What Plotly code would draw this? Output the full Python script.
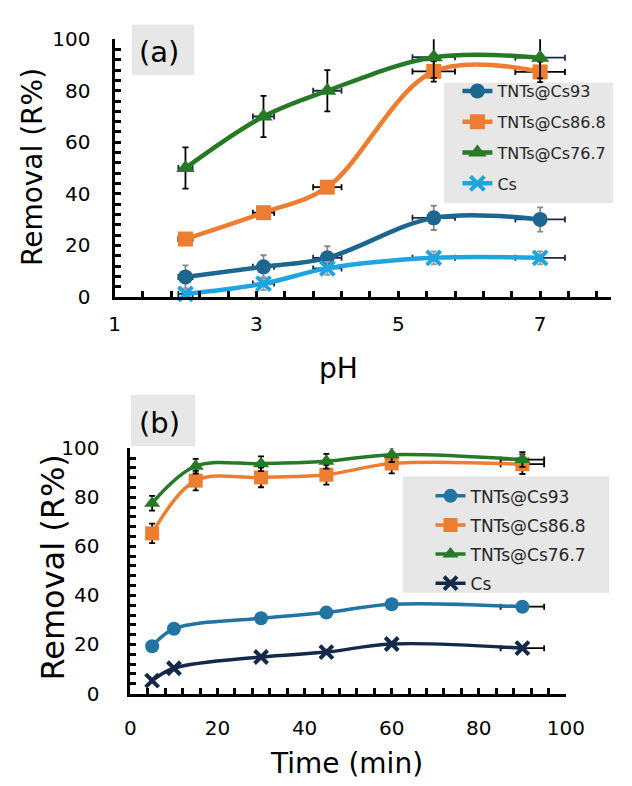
import plotly.graph_objects as go

W, H = 632, 786

# ---------- Panel (a): removal vs pH ----------
ph = [2, 3.1, 4, 5.5, 7]
ph_err = [0.1, 0.15, 0.2, 0.3, 0.35]
a_cs93 = [7.8, 11.7, 15.2, 30.7, 30.1]
a_cs93_err = [4.5, 4.5, 4.5, 4.7, 4.7]
a_cs868 = [22.5, 32.7, 42.6, 87.5, 87.3]
a_cs868_err = [1, 1, 1, 4, 4]
a_cs767 = [50, 70, 80, 93, 92.8]
a_cs767_err = [8, 8, 8, 8, 8]
a_cs = [1.2, 5.2, 11.1, 15.2, 15.2]
a_cs_err = [2, 2.5, 2.5, 2.5, 2.5]

# ---------- Panel (b): removal vs time ----------
t_blue = [5, 10, 30, 45, 60, 90]
t_green = [5, 15, 30, 45, 60, 90]
t_err = [0, 0, 0, 0, 0, 5]
b_cs93 = [19.3, 26.4, 30.7, 33.0, 36.4, 35.4]
b_cs = [5.3, 10.3, 14.9, 16.9, 20.2, 18.5]
b_cs868 = [65.3, 86.8, 88.1, 89.2, 93.8, 93.5]
b_cs868_err = [4, 4, 4, 4, 4, 4]
b_cs767 = [77.6, 92.7, 93.7, 94.7, 97.4, 95.4]
b_cs767_err = [3, 3, 3, 3, 3, 3]

names = ["TNTs@Cs93", "TNTs@Cs86.8", "TNTs@Cs76.7", "Cs"]

C93A, C93B = "#1d6690", "#2274a3"
CORG = "#ed7d31"
CGRN = "#267a26"
CCSA, CCSB = "#1ea5e0", "#14294a"
NAVY = "#1a2a48"
FONT = "DejaVu Sans"


def px_x(p):
    return p / W


def px_y(p):
    return 1 - p / H


fig = go.Figure()


def add(x, y, name, color, symbol, size, lw, xref, yref, legend,
        ey=None, ey_color="black", ex=None, ex_color=NAVY, mlw=0):
    kw = {}
    if ey is not None:
        kw["error_y"] = dict(type="data", array=ey, color=ey_color,
                             thickness=1.8, width=3)
    if ex is not None:
        kw["error_x"] = dict(type="data", array=ex, color=ex_color,
                             thickness=1.8, width=3)
    fig.add_trace(go.Scatter(
        x=x, y=y, name=name, mode="lines+markers",
        line=dict(color=color, width=lw, shape="spline", smoothing=1),
        marker=dict(color=color, symbol=symbol, size=size,
                    line=dict(color=color, width=mlw)),
        xaxis=xref, yaxis=yref, legend=legend, legendgroup=legend + name,
        cliponaxis=False, **kw))


# panel a
add(ph, a_cs93, names[0], C93A, "circle", 15, 4.5, "x", "y", "legend",
    ey=a_cs93_err, ey_color="#888888", ex=ph_err)
add(ph, a_cs868, names[1], CORG, "square", 15, 4.5, "x", "y", "legend",
    ey=a_cs868_err, ex=ph_err, ex_color="black")
add(ph, a_cs767, names[2], CGRN, "triangle-up", 16, 4.5, "x", "y", "legend",
    ey=a_cs767_err, ex=ph_err)
add(ph, a_cs, names[3], CCSA, "x-thin", 14, 4.5, "x", "y", "legend",
    ey=a_cs_err, ey_color="#999999", ex=ph_err, mlw=4)

# panel b
add(t_blue, b_cs93, names[0], C93B, "circle", 14, 3.5, "x2", "y2", "legend2",
    ex=t_err, ex_color="black")
add(t_green, b_cs868, names[1], CORG, "square", 14, 3.5, "x2", "y2", "legend2",
    ey=b_cs868_err, ex=t_err, ex_color="black")
add(t_green, b_cs767, names[2], CGRN, "triangle-up", 14, 3.5, "x2", "y2", "legend2",
    ey=b_cs767_err, ex=t_err, ex_color="black")
add(t_blue, b_cs, names[3], CCSB, "x-thin", 13, 3.5, "x2", "y2", "legend2",
    ex=t_err, ex_color="black", mlw=4)

axis_common = dict(showline=True, linecolor="black", linewidth=3,
                   showgrid=False, zeroline=False, ticks="inside",
                   ticklen=6, tickwidth=2.5, tickcolor="black",
                   tickfont=dict(family=FONT, size=20, color="black"),
                   fixedrange=True)

fig.update_layout(
    width=W, height=H, autosize=False,
    margin=dict(l=0, r=0, t=0, b=0),
    paper_bgcolor="white", plot_bgcolor="rgba(0,0,0,0)",
    xaxis=dict(domain=[px_x(113), px_x(630)], range=[1, 8],
               tick0=1, dtick=2, anchor="y", ticklabelstandoff=7,
               minor=dict(tick0=1, dtick=0.4, ticks="inside", ticklen=6,
                          tickwidth=2.5, tickcolor="black"),
               **axis_common),
    yaxis=dict(domain=[px_y(294), px_y(28)], range=[0, 100],
               tick0=0, dtick=20, anchor="x", ticklabelstandoff=17,
               minor=dict(tick0=0, dtick=4, ticks="inside", ticklen=6,
                          tickwidth=2.5, tickcolor="black"),
               **axis_common),
    xaxis2=dict(domain=[px_x(129.5), px_x(583)], range=[0, 100],
                tick0=0, dtick=20, anchor="y2", ticklabelstandoff=14,
                minor=dict(tick0=0, dtick=4, ticks="inside", ticklen=6,
                           tickwidth=2.5, tickcolor="black"),
                **axis_common),
    yaxis2=dict(domain=[px_y(703), px_y(450)], range=[0, 100],
                tick0=0, dtick=20, anchor="x2", ticklabelstandoff=24,
                minor=dict(tick0=0, dtick=4, ticks="inside", ticklen=6,
                           tickwidth=2.5, tickcolor="black"),
                **axis_common),
    legend=dict(x=px_x(470), y=px_y(64), xanchor="left", yanchor="top",
                bgcolor="rgba(0,0,0,0)", tracegroupgap=7,
                font=dict(family=FONT, size=16, color="#262626")),
    legend2=dict(x=px_x(442), y=px_y(481), xanchor="left", yanchor="top",
                 bgcolor="rgba(0,0,0,0)", tracegroupgap=4,
                 font=dict(family=FONT, size=17, color="#262626")),
    showlegend=True,
)

# grey boxes (legend backgrounds and panel tags)
boxes = [(456, 73, 632, 197), (413, 479, 628, 599),
         (131, 13, 196, 65), (130, 395, 197, 448)]
for x0, y0, x1, y1 in boxes:
    fig.add_shape(type="rect", xref="paper", yref="paper",
                  x0=px_x(x0), x1=px_x(x1), y0=px_y(y1), y1=px_y(y0),
                  fillcolor="#e7e7e7", line=dict(width=0), layer="below")

texts = [
    ("(a)", 159, 41, 29, 0),
    ("(b)", 160, 424, 29, 0),
    ("Removal (R%)", 27, 160, 28, -90),
    ("Removal (R%)", 48, 573, 32, -90),
    ("pH", 346, 368, 28, 0),
    ("Time (min)", 355, 775, 28, 0),
]
for t, x, y, s, ang in texts:
    fig.add_annotation(text=t, xref="paper", yref="paper",
                       x=px_x(x), y=px_y(y), xanchor="center",
                       yanchor="middle", showarrow=False, textangle=ang,
                       font=dict(family=FONT, size=s, color="black"))

fig.write_html("out.html")
